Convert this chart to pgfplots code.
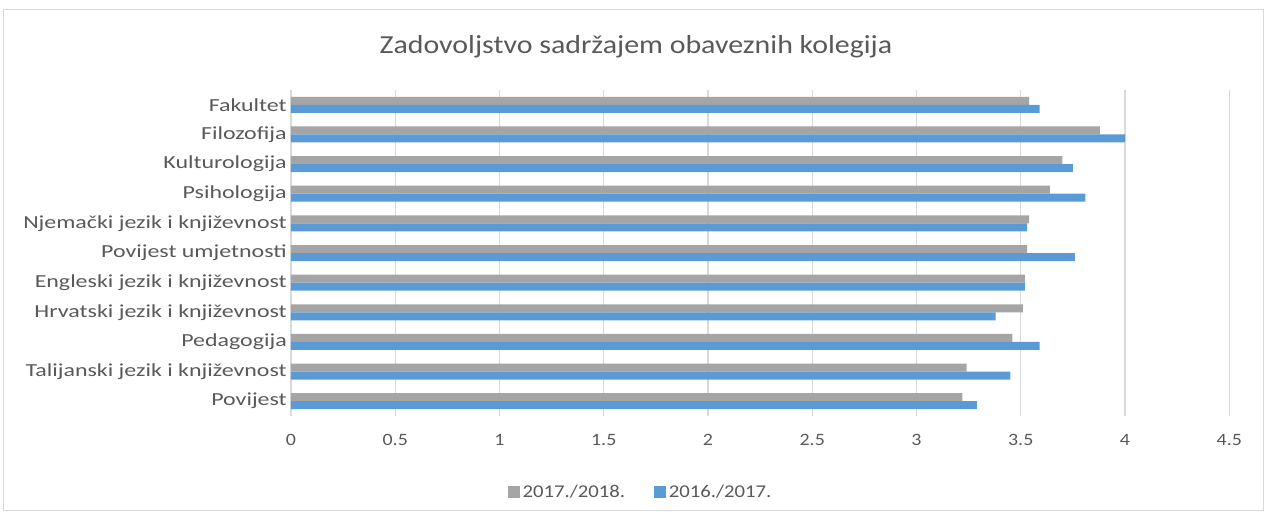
\documentclass[border=0pt]{standalone}
\usepackage{fontspec}
\setmainfont[FakeStretch=1.15]{Carlito}
\newfontfamily\labfont[FakeStretch=1.3]{Carlito}
\usepackage{pgfplots}
\pgfplotsset{compat=1.18}
\usepackage{pgfplotstable}
\definecolor{cgray}{HTML}{A5A5A5}
\definecolor{cblue}{HTML}{5B9BD5}
\definecolor{ctext}{HTML}{595959}
\definecolor{cgrid}{HTML}{D9D9D9}
\pgfplotstableread{
idx a b
0 3.54 3.59
1 3.88 4.00
2 3.70 3.75
3 3.64 3.81
4 3.54 3.53
5 3.53 3.76
6 3.52 3.52
7 3.51 3.38
8 3.46 3.59
9 3.24 3.45
10 3.22 3.29
}\data
\begin{document}
\begin{tikzpicture}
\useasboundingbox (-218.25pt,-74.25pt) rectangle (732.75pt,312pt);
\draw[cgrid, line width=0.75pt] (-215.25pt,-70.5pt) rectangle (729pt,304.5pt);
\begin{axis}[
  scale only axis,
  width=703.7pt, height=244.5pt,
  xbar=0pt, bar width=6pt,
  xmin=0, xmax=4.5,
  ymin=-0.5, ymax=10.5,
  y dir=reverse,
  ytick={0,...,10},
  yticklabels={Fakultet,Filozofija,Kulturologija,Psihologija,Njemački jezik i književnost,Povijest umjetnosti,Engleski jezik i književnost,Hrvatski jezik i književnost,Pedagogija,Talijanski jezik i književnost,Povijest},
  xtick={0,0.5,...,4.5},
  xticklabels={0,0.5,1,1.5,2,2.5,3,3.5,4,4.5},
  xmajorgrids, major grid style={cgrid, line width=0.9pt},
  axis line style={draw=none},
  extra x ticks={0}, extra x tick labels={},
  extra x tick style={grid style={cgrid, line width=1pt}},
  major tick length=0pt,
  tick style={draw=none},
  ticklabel style={text=ctext},
  yticklabel style={font=\labfont\fontsize{13.8}{16}\selectfont, inner sep=0pt},
  xticklabel style={font=\fontsize{13}{15}\selectfont},
  yticklabel shift=3pt,
  xticklabel shift=10pt,
  /pgf/number format/assume math mode=true,
  legend columns=2,
  legend style={draw=none, fill=none, at={(0.373,-0.233)}, anchor=center, font=\fontsize{13.5}{15}\selectfont, text=ctext, /tikz/every even column/.append style={column sep=20pt}},
  legend image code/.code={\fill[#1] (0pt,-4.5pt) rectangle (9pt,4.5pt);},
]
\addplot[fill=cgray, draw=none, bar shift=3pt] table[x=a, y=idx] {\data};
\addplot[fill=cblue, draw=none, bar shift=-3pt] table[x=b, y=idx] {\data};
\legend{2017./2018.,2016./2017.}
\end{axis}
\node[text=ctext, font=\fontsize{19.5}{22}\selectfont] at (258.75pt,276.75pt) {Zadovoljstvo sadržajem obaveznih kolegija};
\end{tikzpicture}
\end{document}
